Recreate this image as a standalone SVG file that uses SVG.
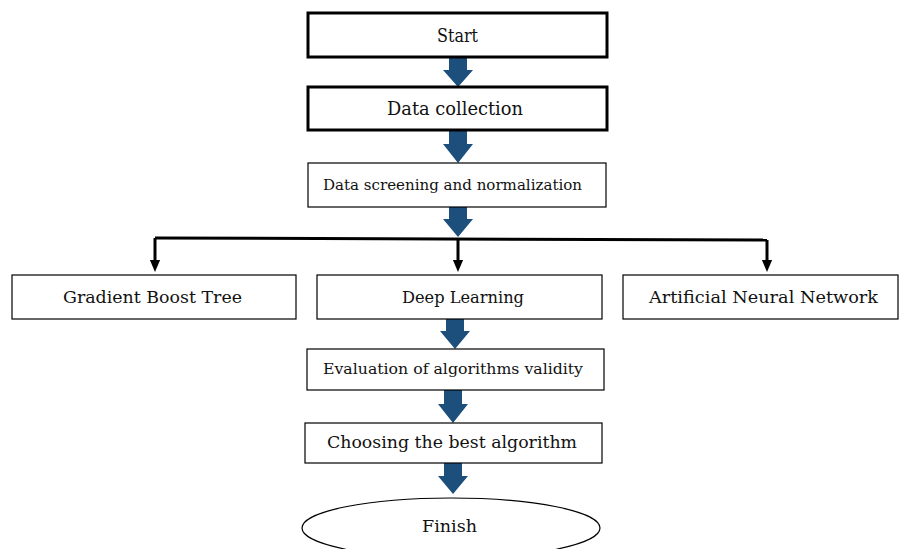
<svg xmlns="http://www.w3.org/2000/svg" width="899" height="549" viewBox="0 0 899 549">
<style>
.thick{fill:#fff;stroke:#000;stroke-width:3}
.thin{fill:#fff;stroke:#000;stroke-width:1.2}
text{font-family:'DejaVu Serif','Liberation Serif',serif;fill:#111;text-anchor:middle}
.blk{fill:#1d4f7c}
.ln{stroke:#000;stroke-width:3;fill:none}
</style>
<defs>
<marker id="ah" markerWidth="4" markerHeight="4" refX="2" refY="2" orient="auto" markerUnits="strokeWidth"><path d="M0,0.3 L4,2 L0,3.7 Z" fill="#000"/></marker>
</defs>
<rect width="899" height="549" fill="#fff"/>
<g id="connectors">
<path class="blk" d="M449,57 h18 v13 h6 l-15,17 l-15,-17 h6 z"/>
<path class="blk" d="M449,130 h18 v14 h6 l-15,19 l-15,-19 h6 z"/>
<path class="blk" d="M449,207 h18 v12 h6 l-15,18 l-15,-18 h6 z"/>
<path class="ln" d="M155,238 L767,240"/>
<path class="ln" d="M155,238 V266" marker-end="url(#ah)"/>
<path class="ln" d="M458,238 V266" marker-end="url(#ah)"/>
<path class="ln" d="M767,240 V266" marker-end="url(#ah)"/>
<path class="blk" d="M446,319 h18 v12 h6 l-15,18 l-15,-18 h6 z"/>
<path class="blk" d="M444,390 h18 v14 h6 l-15,19 l-15,-19 h6 z"/>
<path class="blk" d="M444,463 h18 v13 h6 l-15,18 l-15,-18 h6 z"/>
</g>
<g id="start"><rect class="thick" x="308" y="13" width="299" height="44"/><text x="457.5" y="42" font-size="18" textLength="41" lengthAdjust="spacingAndGlyphs">Start</text></g>
<g id="collection"><rect class="thick" x="308" y="87" width="299" height="43"/><text x="455" y="115" font-size="18" textLength="136" lengthAdjust="spacingAndGlyphs">Data collection</text></g>
<g id="screening"><rect class="thin" x="308" y="163" width="298" height="44"/><text x="452.5" y="190" font-size="15" textLength="259" lengthAdjust="spacingAndGlyphs">Data screening and normalization</text></g>
<g id="gbt"><rect class="thin" x="12" y="275" width="284" height="44"/><text x="152.5" y="303" font-size="17" textLength="179" lengthAdjust="spacingAndGlyphs">Gradient Boost Tree</text></g>
<g id="dl"><rect class="thin" x="317" y="275" width="285" height="44"/><text x="463" y="303" font-size="17" textLength="122" lengthAdjust="spacingAndGlyphs">Deep Learning</text></g>
<g id="ann"><rect class="thin" x="623" y="275" width="275" height="44"/><text x="763.5" y="303" font-size="17" textLength="229" lengthAdjust="spacingAndGlyphs">Artificial Neural Network</text></g>
<g id="eval"><rect class="thin" x="307" y="349" width="297" height="41"/><text x="453" y="374" font-size="15" textLength="260" lengthAdjust="spacingAndGlyphs">Evaluation of algorithms validity</text></g>
<g id="choose"><rect class="thin" x="305" y="423" width="297" height="40"/><text x="452" y="448" font-size="17" textLength="250" lengthAdjust="spacingAndGlyphs">Choosing the best algorithm</text></g>
<g id="finish"><ellipse class="thin" cx="451" cy="528" rx="149" ry="30"/><text x="449.5" y="532" font-size="17" textLength="55" lengthAdjust="spacingAndGlyphs">Finish</text></g>
</svg>
